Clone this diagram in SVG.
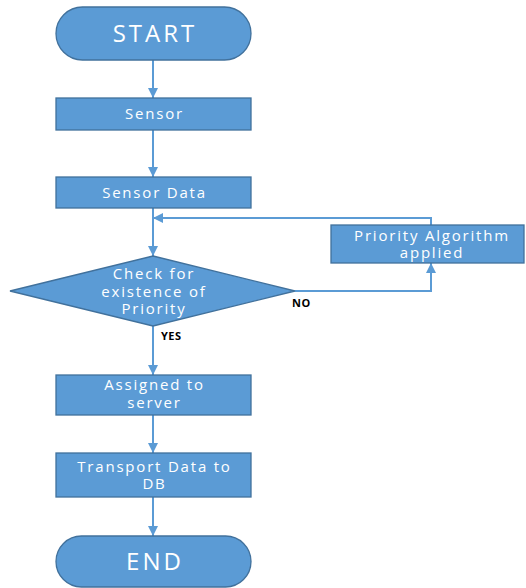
<svg xmlns="http://www.w3.org/2000/svg" width="526" height="588" viewBox="0 0 526 588">
  <style>
    .shape { fill: #5B9BD5; stroke: #41719C; stroke-width: 1.3; }
    .label { fill: #ffffff; font-family: "Open Sans", "Noto Sans", "Liberation Sans", sans-serif; text-anchor: middle; }
    .big { font-size: 24px; letter-spacing: 3px; }
    .small { font-size: 15px; letter-spacing: 1.8px; }
    .edge { fill: none; stroke: #5B9BD5; stroke-width: 2; }
    .tag { fill: #000000; font-family: "Open Sans", "Noto Sans", "Liberation Sans", sans-serif; font-size: 11px; font-weight: bold; letter-spacing: 0.5px; }
  </style>
  <defs>
    <marker id="arrow" viewBox="0 0 10 10" refX="10" refY="5" markerWidth="5" markerHeight="5" orient="auto" markerUnits="strokeWidth">
      <path d="M0,0 L10,5 L0,10 z" fill="#5B9BD5"/>
    </marker>
  </defs>
  <rect width="526" height="588" fill="#ffffff"/>

  <g id="connectors">
    <line class="edge" x1="153" y1="60" x2="153" y2="98" marker-end="url(#arrow)"/>
    <line class="edge" x1="153" y1="130" x2="153" y2="177" marker-end="url(#arrow)"/>
    <line class="edge" x1="153" y1="208" x2="153" y2="256" marker-end="url(#arrow)"/>
    <polyline class="edge" points="295,291 431,291 431,263" marker-end="url(#arrow)"/>
    <polyline class="edge" points="431,225 431,218 153,218" marker-end="url(#arrow)"/>
    <line class="edge" x1="153" y1="326" x2="153" y2="375" marker-end="url(#arrow)"/>
    <line class="edge" x1="153" y1="415" x2="153" y2="453" marker-end="url(#arrow)"/>
    <line class="edge" x1="153" y1="497" x2="153" y2="536" marker-end="url(#arrow)"/>
  </g>

  <g id="start">
    <rect class="shape" x="56" y="7" width="195" height="53" rx="26.5"/>
    <text class="label big" x="155" y="42">START</text>
  </g>

  <g id="sensor">
    <rect class="shape" x="56" y="98" width="195" height="32"/>
    <text class="label small" x="154.5" y="119">Sensor</text>
  </g>

  <g id="sensor-data">
    <rect class="shape" x="56" y="177" width="195" height="31"/>
    <text class="label small" x="154.5" y="198">Sensor Data</text>
  </g>

  <g id="check-priority">
    <polygon class="shape" points="153,256 295,291 153,326 10,291"/>
    <text class="label small" x="154" y="279">Check for</text>
    <text class="label small" x="154" y="297">existence of</text>
    <text class="label small" x="154" y="314">Priority</text>
  </g>

  <g id="priority-algorithm">
    <rect class="shape" x="331" y="225" width="193" height="38"/>
    <text class="label small" x="432" y="241">Priority Algorithm</text>
    <text class="label small" x="432" y="258">applied</text>
  </g>

  <g id="assigned">
    <rect class="shape" x="56" y="375" width="195" height="40"/>
    <text class="label small" x="154.5" y="390">Assigned to</text>
    <text class="label small" x="154.5" y="408">server</text>
  </g>

  <g id="transport">
    <rect class="shape" x="56" y="453" width="195" height="44"/>
    <text class="label small" x="154.5" y="472">Transport Data to</text>
    <text class="label small" x="154.5" y="489">DB</text>
  </g>

  <g id="end">
    <rect class="shape" x="56" y="536" width="195" height="51" rx="25.5"/>
    <text class="label big" x="155" y="570">END</text>
  </g>

  <text class="tag" x="292" y="307">NO</text>
  <text class="tag" x="161" y="340">YES</text>
</svg>
